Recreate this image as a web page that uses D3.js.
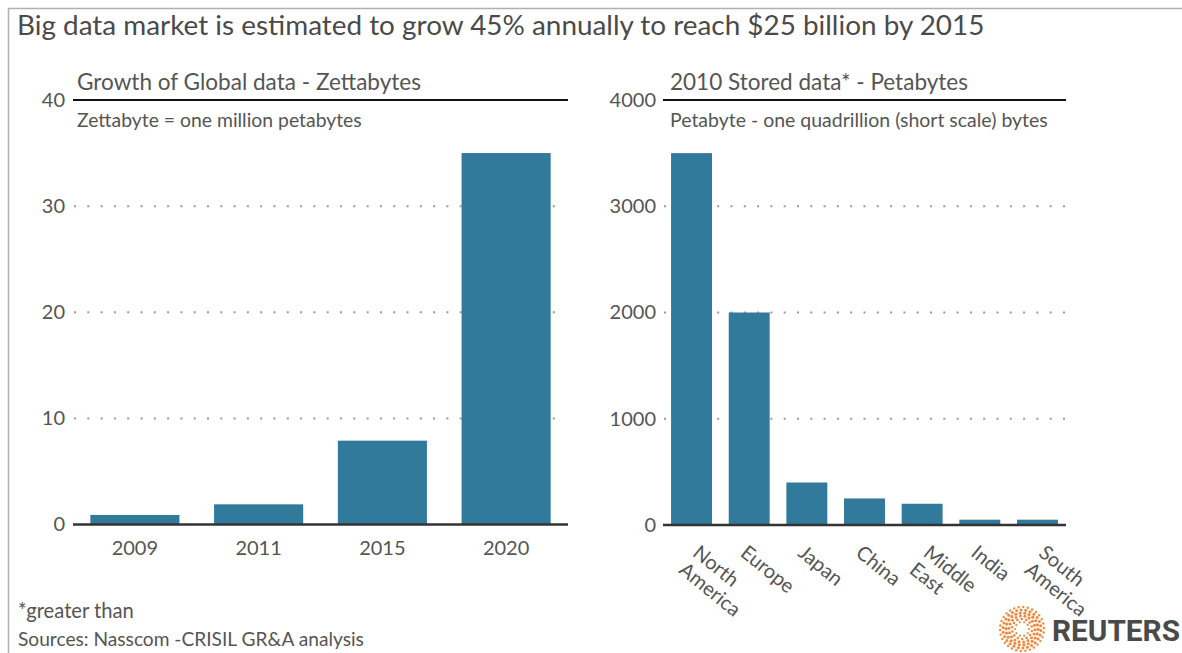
<!DOCTYPE html>
<html><head><meta charset="utf-8">
<script src="https://cdn.jsdelivr.net/npm/d3@7"></script>
<style>
html,body{margin:0;padding:0;background:#fff;}
svg{display:block;font-family:Lato, "Open Sans", sans-serif;}
</style></head>
<body>
<svg id="chart" width="1182" height="653"></svg>
<script>
// ---- data ----
const title = "Big data market is estimated to grow 45% annually to reach $25 billion by 2015";
const leftTitle = "Growth of Global data - Zettabytes";
const leftNote = "Zettabyte = one million petabytes";
const years = ["2009", "2011", "2015", "2020"];
const zettabytes = [0.9, 1.9, 7.9, 35];
const leftTicks = [0, 10, 20, 30, 40];

const rightTitle = "2010 Stored data* - Petabytes";
const rightNote = "Petabyte - one quadrillion (short scale) bytes";
const regions = ["North America", "Europe", "Japan", "China", "Middle East", "India", "South America"];
const regionLines = [["North", "America"], ["Europe"], ["Japan"], ["China"], ["Middle", "East"], ["India"], ["South", "America"]];
const petabytes = [3500, 2000, 400, 250, 200, 50, 50];
const rightTicks = [0, 1000, 2000, 3000, 4000];

const footnote = "*greater than";
const source = "Sources: Nasscom -CRISIL GR&A analysis";

// ---- drawing ----
const svg = d3.select("#chart");
const BAR = "#317a9b", TXT = "#555", GRID = "#9a9a9a";

// frame
svg.append("line").attr("x1", 8).attr("x2", 1182).attr("y1", 8.5).attr("y2", 8.5).attr("stroke", "#b0b0b0").attr("stroke-width", 1.5);
svg.append("line").attr("x1", 8.5).attr("x2", 8.5).attr("y1", 8).attr("y2", 653).attr("stroke", "#b0b0b0").attr("stroke-width", 1.5);

function fit(sel, w) {
  const n = sel.node();
  const fs = parseFloat(sel.attr("font-size"));
  const cur = n.getComputedTextLength();
  sel.attr("font-size", (fs * w / cur).toFixed(2));
  return sel;
}

fit(svg.append("text").attr("x", 17).attr("y", 35).attr("font-size", 26).attr("fill", "#4a4a4a").text(title), 968);

function panel(opts) {
  const g = svg.append("g");
  const x = d3.scaleBand().domain(opts.cats).range(opts.xr).paddingInner(opts.pi).paddingOuter(opts.po);
  const y = d3.scaleLinear().domain(opts.yd).range([opts.y0, 100]);
  // gridlines
  g.append("g").selectAll("line").data(opts.ticks.slice(1, -1)).join("line")
    .attr("x1", opts.gx[0]).attr("x2", opts.gx[1])
    .attr("y1", d => y(d)).attr("y2", d => y(d))
    .attr("stroke", GRID).attr("stroke-width", 2)
    .attr("stroke-dasharray", "2 11.3");
  // bars
  g.append("g").selectAll("rect").data(opts.vals).join("rect")
    .attr("x", (d, i) => x(opts.cats[i])).attr("width", x.bandwidth())
    .attr("y", d => y(d)).attr("height", d => y(0) - y(d))
    .attr("fill", BAR);
  // y axis labels
  const ya = g.append("g").attr("transform", `translate(${opts.tx},0)`)
    .call(d3.axisLeft(y).tickValues(opts.ticks).tickSize(0).tickPadding(0).tickFormat(d3.format("d")));
  ya.select(".domain").remove();
  ya.selectAll("text").attr("font-size", 20).attr("fill", TXT).attr("font-family", "Lato, sans-serif");
  // top rule and baseline
  g.append("line").attr("x1", opts.xr[0]).attr("x2", opts.xr[1]).attr("y1", y(opts.yd[1])).attr("y2", y(opts.yd[1]))
    .attr("stroke", "#111").attr("stroke-width", 2);
  g.append("line").attr("x1", opts.xr[0]).attr("x2", opts.xr[1]).attr("y1", y(0)).attr("y2", y(0))
    .attr("stroke", "#333").attr("stroke-width", 2.5);
  // titles
  fit(g.append("text").attr("x", opts.titleX).attr("y", 90).attr("font-size", 19).attr("fill", TXT).text(opts.title), opts.titleW);
  fit(g.append("text").attr("x", opts.titleX).attr("y", 127).attr("font-size", 15).attr("fill", TXT).text(opts.note), opts.noteW);
  return {g, x, y};
}

// left panel
const L = panel({cats: years, vals: zettabytes, xr: [73, 568], pi: 0.28, po: 0.14, yd: [0, 40], y0: 524.5,
  ticks: leftTicks, gx: [74, 562], tx: 65, title: leftTitle, note: leftNote, titleX: 77, titleW: 344, noteW: 285});
const xa = L.g.append("g").attr("transform", `translate(0,${L.y(0)})`)
  .call(d3.axisBottom(L.x).tickSize(0).tickPadding(16));
xa.select(".domain").remove();
xa.selectAll("text").attr("font-size", 20).attr("fill", TXT).attr("font-family", "Lato, sans-serif");

// right panel
const R = panel({cats: regions, vals: petabytes, xr: [663, 1066], pi: 0.29, po: 0.14, yd: [0, 4000], y0: 525,
  ticks: rightTicks, gx: [664, 1066], tx: 656, title: rightTitle, note: rightNote, titleX: 670, titleW: 298, noteW: 378});
const xb = R.g.append("g").attr("transform", `translate(0,${R.y(0)})`)
  .call(d3.axisBottom(R.x).tickSize(0).tickFormat(""));
xb.select(".domain").remove();
xb.selectAll(".tick").each(function (d, i) {
  const lines = regionLines[i];
  const dx = lines.length > 1 ? 0 : -10;
  const t = d3.select(this).append("text")
    .attr("transform", `translate(${dx},30) rotate(39)`)
    .attr("text-anchor", "start").attr("font-size", 20).attr("fill", TXT)
    .attr("font-family", "Lato, sans-serif");
  lines.forEach((s, j) => t.append("tspan").attr("x", 0).attr("y", j * 22).text(s));
});

// footer
fit(svg.append("text").attr("x", 18).attr("y", 618).attr("font-size", 16).attr("fill", TXT).text(footnote), 116);
fit(svg.append("text").attr("x", 18).attr("y", 646).attr("font-size", 16).attr("fill", TXT).text(source), 346);

// Reuters logo
const logo = svg.append("g").attr("transform", "translate(1022,629)");
const rings = [{r: 7, n: 10, s: 1.1}, {r: 10, n: 14, s: 1.3}, {r: 13, n: 18, s: 1.5}, {r: 16, n: 22, s: 1.6}, {r: 19, n: 26, s: 1.5}, {r: 22, n: 30, s: 1.2}];
rings.forEach((rg, k) => {
  for (let i = 0; i < rg.n; i++) {
    const a = (i / rg.n) * 2 * Math.PI + k * 0.2;
    logo.append("circle").attr("cx", rg.r * Math.cos(a)).attr("cy", rg.r * Math.sin(a)).attr("r", rg.s).attr("fill", "#f08a3e");
  }
});
fit(svg.append("text").attr("x", 1052).attr("y", 641).attr("font-size", 27).attr("font-weight", "bold")
  .attr("font-family", "Roboto, Lato, sans-serif").attr("fill", "#4a4a4a").text("REUTERS"), 128);
</script>
</body></html>
